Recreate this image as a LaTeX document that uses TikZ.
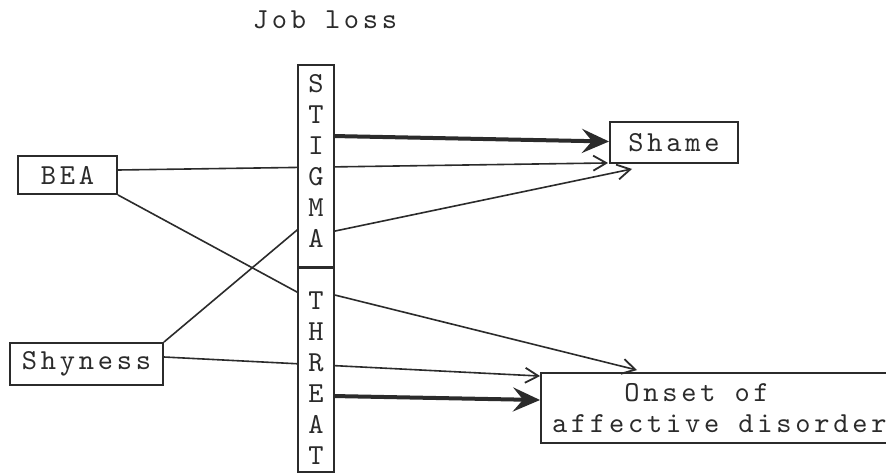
\documentclass[tikz,border=0pt]{standalone}
\usepackage{fontspec}
\newfontfamily\typew{lmmono10-regular}[Extension=.otf, LetterSpace=13]
\usetikzlibrary{arrows.meta,calc}
\definecolor{ink}{HTML}{2B2B2B}
\begin{document}
\begin{tikzpicture}[x=1pt,y=-1pt,
  tw/.style={font=\typew\fontsize{29}{31}\selectfont, text=ink},
  box/.style={tw, draw=ink, line width=1.9pt, fill=white, inner sep=0pt},
  bar/.style={draw=ink, line width=1.9pt, fill=white, inner sep=0pt,
              minimum width=36pt},
  letters/.style={tw, align=center, inner sep=0pt},
  link/.style={draw=ink, line width=1.6pt},
  thinarrow/.style={link, -{Straight Barb[length=13pt,width=15pt,line width=1.8pt]}},
  thickarrow/.style={draw=ink, line width=4pt,
                     -{Stealth[length=27pt,width=24pt,inset=10pt]}}]
  \useasboundingbox[fill=white] (0,0) rectangle (886,474);

  % heading
  \node[tw] (job) at (325,20) {Job loss};

  % node boxes (positions only; drawn again after the links)
  \node[box, minimum width=99pt, minimum height=38pt] (bea) at (67.5,175) {BEA};
  \node[box, minimum width=153pt, minimum height=42pt] (shy) at (86.5,364) {Shyness};
  \node[box, minimum width=128pt, minimum height=41pt] (shame) at (674,142.5) {Shame};
  \node[box, minimum width=354pt, minimum height=70pt] (onset) at (718,408) {};
  \node[bar, minimum height=202pt] (stig) at (316,166) {};
  \node[bar, minimum height=204pt] (thr) at (316,370) {};

  % links, passing behind the two bars
  \draw[thinarrow] ($(bea.east)+(0,-5)$) -- ($(shame.south west)+(-1,-1)$);
  \draw[thinarrow] (shy.north east) -- ($(stig.north west)+(0,166)$)
                   -- ($(stig.north east)+(0,167)$) -- ($(shame.south west)+(23,5)$);
  \draw[thinarrow] (bea.south east) -- ($(thr.north west)+(0,25)$)
                   -- ($(thr.north east)+(0,28)$) -- ($(onset.north west)+(97,-2)$);
  \draw[thinarrow] ($(shy.east)+(0,-7)$) -- ($(onset.north west)+(0,4)$);
  \draw[thickarrow] ($(stig.north east)+(0,72)$) -- ($(shame.west)+(0,-1)$);
  \draw[thickarrow] ($(thr.north east)+(0,129)$) -- ($(onset.west)+(0,-8)$);

  % bars drawn over the links
  \node[bar, minimum height=202pt] (stigtop) at (stig) {};
  \node[bar, minimum height=204pt] (thrtop) at (thr) {};
  \node[letters] (stigtext) at (316,160.5) {S\\T\\I\\G\\M\\A};
  \node[letters] (thrtext) at (316,378.5) {T\\H\\R\\E\\A\\T};

  % outcome text
  \node[tw, align=left, anchor=west, inner sep=0pt] (onsettext) at (552,408)
       {\phantom{affe}Onset of\\affective disorder};
\end{tikzpicture}
\end{document}
